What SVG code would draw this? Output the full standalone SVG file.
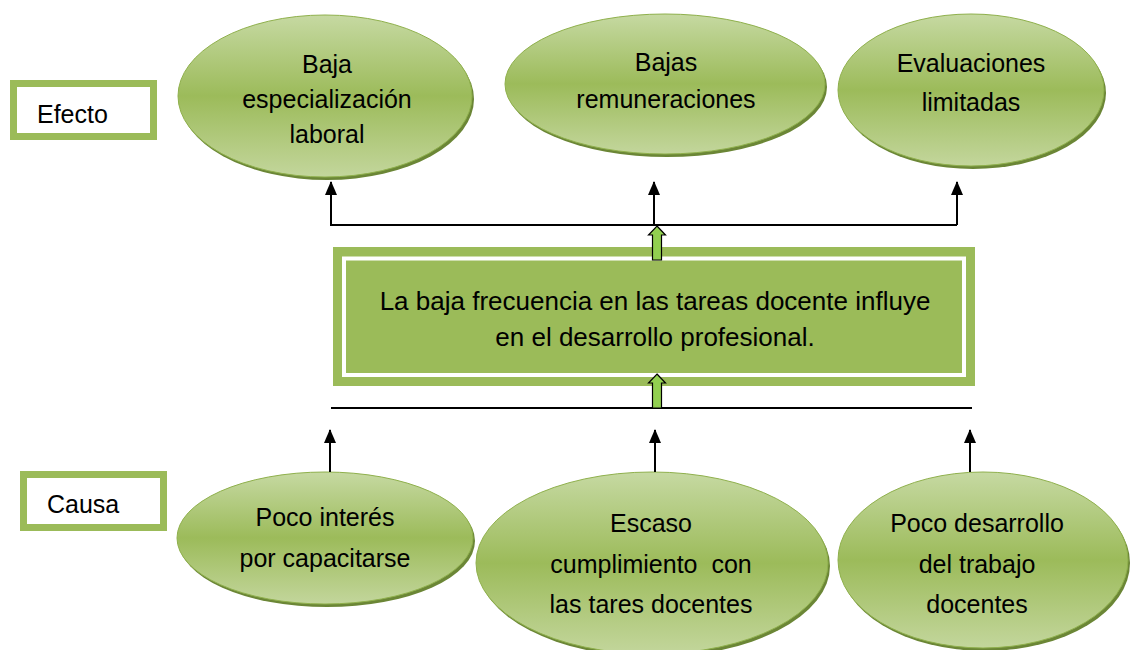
<svg xmlns="http://www.w3.org/2000/svg" width="1133" height="650" viewBox="0 0 1133 650">
<style>
.t{font-family:"Liberation Sans",Arial,sans-serif;font-size:25px;fill:#000;text-anchor:middle}
.lbl{font-family:"Liberation Sans",Arial,sans-serif;font-size:25px;fill:#000}
.ell{fill:url(#g);stroke:#8fb04c;stroke-width:1}
.sh{fill:#6b8636}
.lb{fill:#fff;stroke:#9bbb59;stroke-width:7}
.ln{stroke:#000;stroke-width:2;fill:none}
.ga{fill:#92d050;stroke:#000;stroke-width:1.2}
</style>
<defs>
<linearGradient id="g" x1="0" y1="0" x2="0" y2="1">
<stop offset="0" stop-color="#c6d9a2"/>
<stop offset="0.5" stop-color="#9cbb5a"/>
<stop offset="1" stop-color="#c3d69c"/>
</linearGradient>
<marker id="ah" viewBox="0 0 14 12" refX="13" refY="6" markerWidth="14" markerHeight="12" markerUnits="userSpaceOnUse" orient="auto">
<path d="M0,0 L14,6 L0,12 z" fill="#000"/>
</marker>
</defs>
<rect width="1133" height="650" fill="#fff"/>

<g id="efecto">
<rect class="lb" x="13.5" y="83.5" width="140" height="53"/>
<text class="lbl" x="37" y="123">Efecto</text>
</g>
<g id="causa">
<rect class="lb" x="23.5" y="474.5" width="140" height="53"/>
<text class="lbl" x="47" y="513">Causa</text>
</g>

<g id="e1">
<ellipse class="sh" cx="327" cy="99" rx="147" ry="81"/>
<ellipse class="ell" cx="325" cy="96" rx="147" ry="81"/>
<text class="t" x="327" y="73">Baja</text>
<text class="t" x="327" y="108">especialización</text>
<text class="t" x="327" y="143">laboral</text>
</g>
<g id="e2">
<ellipse class="sh" cx="667" cy="87" rx="160" ry="70"/>
<ellipse class="ell" cx="665" cy="84" rx="160" ry="70"/>
<text class="t" x="666" y="71">Bajas</text>
<text class="t" x="666" y="108">remuneraciones</text>
</g>
<g id="e3">
<ellipse class="sh" cx="973" cy="93" rx="133" ry="76"/>
<ellipse class="ell" cx="971" cy="90" rx="133" ry="76"/>
<text class="t" x="971" y="72">Evaluaciones</text>
<text class="t" x="971" y="111">limitadas</text>
</g>

<g id="problema">
<rect x="333" y="247" width="642" height="139" fill="#9bbb59"/>
<rect x="344" y="258.5" width="620" height="116.5" fill="none" stroke="#fff" stroke-width="4"/>
<text class="t" x="655" y="310" style="font-size:26px">La baja frecuencia en las tareas docente influye</text>
<text class="t" x="655" y="346" style="font-size:26px">en el desarrollo profesional.</text>
</g>

<g id="c1">
<ellipse class="sh" cx="327" cy="541" rx="148" ry="66"/>
<ellipse class="ell" cx="325" cy="538" rx="148" ry="66"/>
<text class="t" x="325" y="526">Poco interés</text>
<text class="t" x="325" y="567">por capacitarse</text>
</g>
<g id="c2">
<ellipse class="sh" cx="654" cy="566" rx="176" ry="91"/>
<ellipse class="ell" cx="652" cy="563" rx="176" ry="91"/>
<text class="t" x="651" y="532">Escaso</text>
<text class="t" x="651" y="573" xml:space="preserve">cumplimiento  con</text>
<text class="t" x="651" y="613">las tares docentes</text>
</g>
<g id="c3">
<ellipse class="sh" cx="985" cy="563" rx="145" ry="88"/>
<ellipse class="ell" cx="983" cy="560" rx="145" ry="88"/>
<text class="t" x="977" y="532">Poco desarrollo</text>
<text class="t" x="977" y="573">del trabajo</text>
<text class="t" x="977" y="613">docentes</text>
</g>

<g id="connectors">
<path class="ln" d="M331,226 V225 H957"/>
<path class="ln" d="M331,225 V182" marker-end="url(#ah)"/>
<path class="ln" d="M654,225 V182" marker-end="url(#ah)"/>
<path class="ln" d="M957,225 V182" marker-end="url(#ah)"/>
<path class="ln" d="M331,408 H972"/>
<path class="ln" d="M330,472 V430" marker-end="url(#ah)"/>
<path class="ln" d="M655,472 V430" marker-end="url(#ah)"/>
<path class="ln" d="M970,472 V430" marker-end="url(#ah)"/>
<path class="ga" d="M657,226 L665.5,235 L661.5,235 L661.5,260 L652.5,260 L652.5,235 L648.5,235 Z"/>
<path class="ga" d="M657,374 L665.5,383 L661.5,383 L661.5,408 L652.5,408 L652.5,383 L648.5,383 Z"/>
</g>
</svg>
